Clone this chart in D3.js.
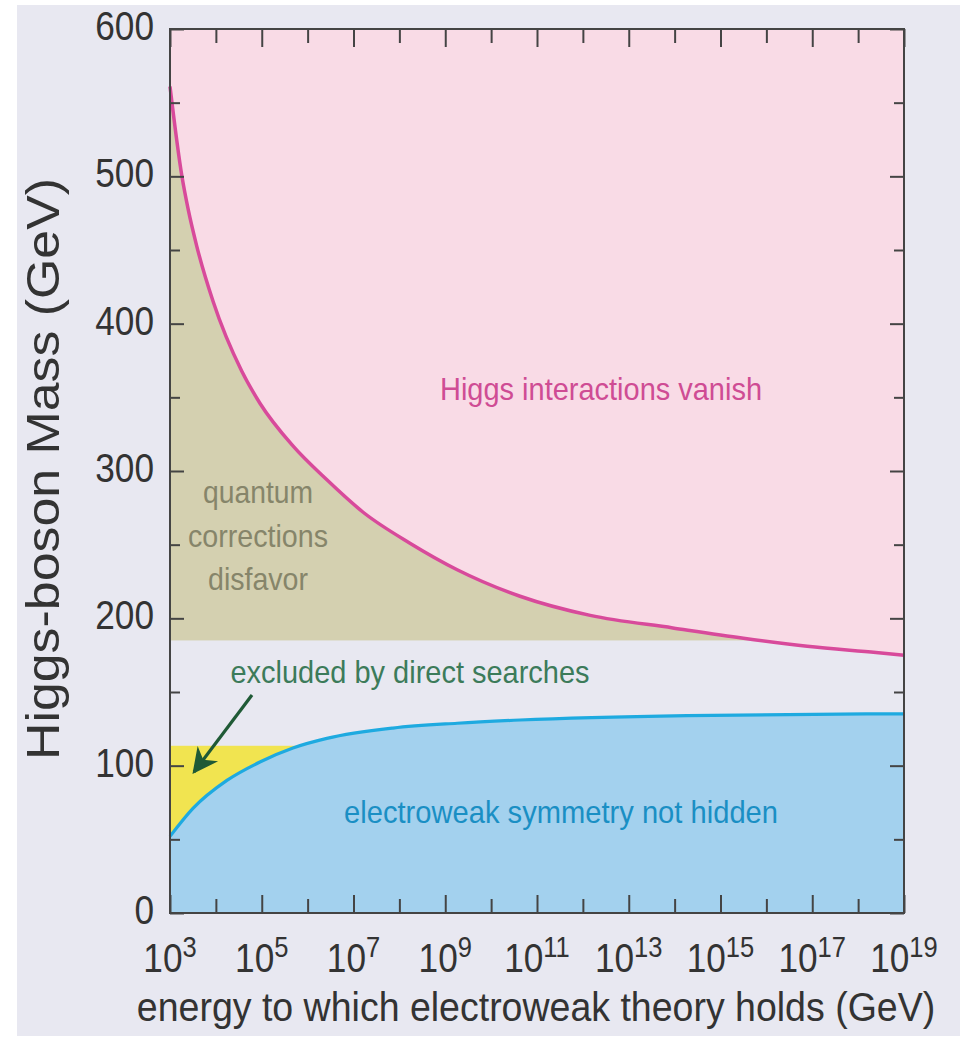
<!DOCTYPE html>
<html>
<head>
<meta charset="utf-8">
<script src="https://cdn.jsdelivr.net/npm/d3@7"></script>
<style>
  body { margin: 0; background: #fff; }
  text { font-family: "Liberation Sans", Arial, sans-serif; }
</style>
</head>
<body>
<svg></svg>
<script>
const width = 973;
const height = 1040;

// Data (energy as log10 of GeV)
const upperLogE = [3, 3.26, 3.40, 3.58, 3.94, 4.56, 4.96, 5.68, 6.42, 7.21, 8.23, 9.26, 10.63, 12.16, 13.96, 15.5, 16.89, 18.39, 19];
const upperMass = [561, 500, 477, 453, 415, 368, 346, 317, 294, 272, 251, 233, 215, 202, 193.5, 186.5, 181, 176.8, 175];
const lowerLogE = [3, 3.5, 4.24, 4.96, 5.68, 6.42, 7.86, 9.26, 10.63, 14.27, 19];
const lowerMass = [52, 71, 90, 102.5, 112, 118.5, 125.5, 128.8, 131, 134, 135.2];
const correctionsFloor = 185;   // bottom of "quantum corrections disfavor" band
const directLimit = 113.5;      // direct search limit
const yMajorTicks = [0, 100, 200, 300, 400, 500, 600];
const yMinorTicks = [50, 150, 250, 350, 450, 550];
const xLabelExps = [3, 5, 7, 9, 11, 13, 15, 17, 19];
const xMinorExps = [4, 6, 8, 10, 12, 14, 16, 18];

const margin = {top: 29, right: 69, bottom: 127, left: 170};
const squeeze = 0.88; // reference font is condensed

const svg = d3.select("svg")
    .attr("width", width)
    .attr("height", height);

// page background
svg.append("rect")
    .attr("x", 17).attr("y", 5)
    .attr("width", 943).attr("height", 1031)
    .attr("fill", "#e8e8f1");

const x = d3.scaleLog()
    .domain([1e3, 1e19])
    .range([margin.left, width - margin.right]);

const y = d3.scaleLinear()
    .domain([0, 600])
    .range([height - margin.bottom, margin.top]);

const upper = upperLogE.map((e, i) => ({e: Math.pow(10, e), m: upperMass[i]}));
const lower = lowerLogE.map((e, i) => ({e: Math.pow(10, e), m: lowerMass[i]}));

// olive band first, the pink area covers what lies above the curve
svg.append("rect")
    .attr("x", x(1e3)).attr("y", y(600))
    .attr("width", x(1e19) - x(1e3))
    .attr("height", y(correctionsFloor) - y(600))
    .attr("fill", "#d4d0b0");

svg.append("path")
    .datum(upper)
    .attr("fill", "#f9dbe6")
    .attr("d", d3.area()
        .x(d => x(d.e))
        .y0(y(600))
        .y1(d => y(d.m))
        .curve(d3.curveMonotoneX));

// yellow band, then blue area on top of it
svg.append("rect")
    .attr("x", x(1e3)).attr("y", y(directLimit))
    .attr("width", x(1e19) - x(1e3))
    .attr("height", y(0) - y(directLimit))
    .attr("fill", "#f1e450");

svg.append("path")
    .datum(lower)
    .attr("fill", "#a3d1ee")
    .attr("d", d3.area()
        .x(d => x(d.e))
        .y0(y(0))
        .y1(d => y(d.m))
        .curve(d3.curveMonotoneX));

// boundary lines
const line = d3.line()
    .x(d => x(d.e))
    .y(d => y(d.m))
    .curve(d3.curveMonotoneX);

svg.append("path")
    .datum(upper)
    .attr("fill", "none")
    .attr("stroke", "#d84a9b")
    .attr("stroke-width", 3.5)
    .attr("d", line);

svg.append("path")
    .datum(lower)
    .attr("fill", "none")
    .attr("stroke", "#1eaae0")
    .attr("stroke-width", 3.2)
    .attr("d", line);

// axes (ticks point inward on all four sides)
function styleAxis(g) {
    g.select(".domain").remove();
    g.selectAll("line").attr("stroke", "#444").attr("stroke-width", 2);
}

const labelled = xLabelExps.map(e => Math.pow(10, e));
const unlabelled = xMinorExps.map(e => Math.pow(10, e));

svg.append("g").attr("transform", `translate(0,${y(0)})`)
    .call(d3.axisBottom(x).tickFormat("").tickValues(labelled).tickSize(-18)).call(styleAxis);
svg.append("g").attr("transform", `translate(0,${y(0)})`)
    .call(d3.axisBottom(x).tickFormat("").tickValues(unlabelled).tickSize(-14)).call(styleAxis);
svg.append("g").attr("transform", `translate(0,${y(600)})`)
    .call(d3.axisTop(x).tickFormat("").tickValues(labelled).tickSize(-18)).call(styleAxis);
svg.append("g").attr("transform", `translate(0,${y(600)})`)
    .call(d3.axisTop(x).tickFormat("").tickValues(unlabelled).tickSize(-14)).call(styleAxis);

svg.append("g").attr("transform", `translate(${x(1e3)},0)`)
    .call(d3.axisLeft(y).tickFormat("").tickValues(yMajorTicks).tickSize(-14)).call(styleAxis);
svg.append("g").attr("transform", `translate(${x(1e3)},0)`)
    .call(d3.axisLeft(y).tickFormat("").tickValues(yMinorTicks).tickSize(-10)).call(styleAxis);
svg.append("g").attr("transform", `translate(${x(1e19)},0)`)
    .call(d3.axisRight(y).tickFormat("").tickValues(yMajorTicks).tickSize(-14)).call(styleAxis);
svg.append("g").attr("transform", `translate(${x(1e19)},0)`)
    .call(d3.axisRight(y).tickFormat("").tickValues(yMinorTicks).tickSize(-10)).call(styleAxis);

// frame
svg.append("rect")
    .attr("x", x(1e3)).attr("y", y(600))
    .attr("width", x(1e19) - x(1e3))
    .attr("height", y(0) - y(600))
    .attr("fill", "none")
    .attr("stroke", "#444")
    .attr("stroke-width", 2);

// y tick labels
svg.append("g").selectAll("text")
    .data(yMajorTicks)
    .join("text")
    .attr("transform", d => `translate(${x(1e3) - 16},${y(d) + 11}) scale(${squeeze},1)`)
    .attr("text-anchor", "end")
    .attr("font-size", 40)
    .attr("fill", "#333")
    .text(d => d);

// x tick labels: 10 with a superscript
const xl = svg.append("g").selectAll("text")
    .data(xLabelExps)
    .join("text")
    .attr("transform", d => `translate(${x(Math.pow(10, d))},972) scale(${squeeze},1)`)
    .attr("text-anchor", "middle")
    .attr("font-size", 40)
    .attr("fill", "#333");
xl.append("tspan").text("10");
xl.append("tspan")
    .attr("font-size", 29)
    .attr("dy", -15)
    .text(d => d);

// axis titles
svg.append("text")
    .attr("transform", "translate(536,1021) scale(0.915,1)")
    .attr("text-anchor", "middle")
    .attr("font-size", 41)
    .attr("fill", "#333")
    .text("energy to which electroweak theory holds (GeV)");

svg.append("text")
    .attr("transform", "translate(59,469) rotate(-90)")
    .attr("text-anchor", "middle")
    .attr("font-size", 46)
    .attr("fill", "#333")
    .attr("textLength", 582)
    .attr("lengthAdjust", "spacingAndGlyphs")
    .text("Higgs-boson Mass (GeV)");

// region annotations
function note(txt, cx, by, len, color) {
    svg.append("text")
        .attr("x", cx).attr("y", by)
        .attr("text-anchor", "middle")
        .attr("font-size", 32)
        .attr("fill", color)
        .attr("textLength", len)
        .attr("lengthAdjust", "spacingAndGlyphs")
        .text(txt);
}
note("Higgs interactions vanish", 601, 400, 322, "#cf4c94");
note("quantum", 258, 503, 110, "#86856a");
note("corrections", 258, 547, 140, "#86856a");
note("disfavor", 258, 590, 100, "#86856a");
note("excluded by direct searches", 410, 683, 359, "#3c7b5a");
note("electroweak symmetry not hidden", 561, 823, 434, "#1a8fc4");

// arrow to the yellow band
svg.append("defs").append("marker")
    .attr("id", "head")
    .attr("viewBox", "0 -5 10 10")
    .attr("refX", 9)
    .attr("refY", 0)
    .attr("markerWidth", 10)
    .attr("markerHeight", 8)
    .attr("markerUnits", "strokeWidth")
    .attr("orient", "auto")
    .append("path")
    .attr("d", "M0,-5L10,0L0,5L3,0Z")
    .attr("fill", "#1f5a36");

svg.append("line")
    .attr("x1", 252).attr("y1", 695)
    .attr("x2", 194).attr("y2", 772)
    .attr("stroke", "#1f5a36")
    .attr("stroke-width", 3.2)
    .attr("marker-end", "url(#head)");
</script>
</body>
</html>
